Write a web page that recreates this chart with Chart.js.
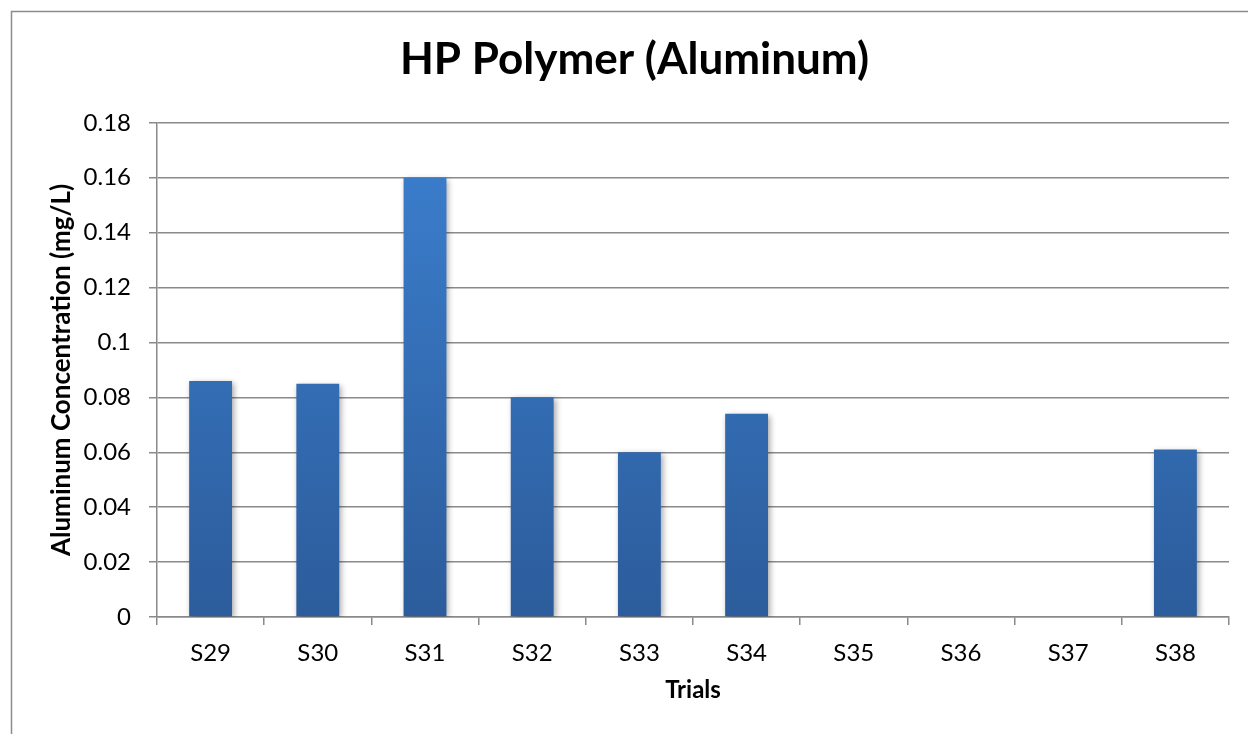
<!DOCTYPE html>
<html>
<head>
<meta charset="utf-8">
<script src="https://cdn.jsdelivr.net/npm/chart.js@4.4.1/dist/chart.umd.min.js"></script>
<style>
  body { margin: 0; background: #fff; }
  #wrap { width: 1248px; height: 734px; }
</style>
</head>
<body>
<div id="wrap"><canvas id="myChart" width="1248" height="734"></canvas></div>
<script>
// data
var trials = ['S29', 'S30', 'S31', 'S32', 'S33', 'S34', 'S35', 'S36', 'S37', 'S38'];
var aluminum = [0.086, 0.085, 0.16, 0.08, 0.06, 0.074, null, null, null, 0.061];
var yMin = 0;
var yMax = 0.18;
var yStep = 0.02;

var fontName = 'Lato, "Open Sans", sans-serif';
var gridColor = '#8a8a8a';

// outer frame of the chart object
var framePlugin = {
    id: 'frame',
    beforeDraw: function (chart) {
        var ctx = chart.ctx;
        ctx.save();
        ctx.fillStyle = '#fff';
        ctx.fillRect(0, 0, chart.width, chart.height);
        ctx.strokeStyle = '#8c8c8c';
        ctx.lineWidth = 1.5;
        ctx.strokeRect(11.5, 11.5, chart.width + 20, chart.height + 20);
        ctx.restore();
    }
};

// soft shadow behind bars
var shadowPlugin = {
    id: 'barShadow',
    beforeDatasetsDraw: function (chart) {
        var ctx = chart.ctx;
        ctx.save();
        ctx.shadowColor = 'rgba(0,0,0,0.35)';
        ctx.shadowBlur = 6;
        ctx.shadowOffsetX = 2;
        ctx.shadowOffsetY = 2;
    },
    afterDatasetsDraw: function (chart) {
        chart.ctx.restore();
    }
};

function barGradient(context) {
    var chart = context.chart;
    var area = chart.chartArea;
    if (!area) return '#3a7bc8';
    var g = chart.ctx.createLinearGradient(0, area.top, 0, area.bottom);
    g.addColorStop(0, '#3c80d0');
    g.addColorStop(1, '#2c5c9b');
    return g;
}

var ctx = document.getElementById('myChart');
var myChart = new Chart(ctx, {
    type: 'bar',
    data: {
        labels: trials,
        datasets: [{
            label: 'Aluminum',
            data: aluminum,
            backgroundColor: barGradient,
            borderWidth: 0,
            categoryPercentage: 0.8,
            barPercentage: 0.5
        }]
    },
    options: {
        responsive: false,
        animation: false,
        layout: { padding: { left: 40, right: 19, top: 0, bottom: 0 } },
        plugins: {
            legend: { display: false },
            tooltip: { enabled: false },
            title: {
                display: true,
                text: 'HP Polymer (Aluminum)',
                color: '#000',
                font: { family: fontName, size: 44, weight: 'bold', lineHeight: 1.2 },
                padding: { top: 33, bottom: 37 }
            }
        },
        scales: {
            x: {
                grid: {
                    display: true,
                    drawOnChartArea: false,
                    drawTicks: true,
                    tickLength: 8,
                    color: gridColor,
                    lineWidth: 1.5,
                    offset: true
                },
                border: { color: gridColor, width: 1.5 },
                ticks: {
                    color: '#000',
                    font: { family: fontName, size: 24 },
                    padding: 14,
                    maxRotation: 0
                },
                title: {
                    display: true,
                    text: 'Trials',
                    color: '#000',
                    font: { family: fontName, size: 24, weight: 'bold', lineHeight: 1.2 },
                    padding: { top: 0, bottom: 29 }
                },
                afterFit: function (scale) { scale.height = 117; }
            },
            y: {
                min: yMin,
                max: yMax,
                grid: {
                    color: gridColor,
                    lineWidth: 1.5,
                    tickLength: 8
                },
                border: { color: gridColor, width: 1.5 },
                ticks: {
                    stepSize: yStep,
                    color: '#000',
                    font: { family: fontName, size: 24 },
                    padding: 18,
                    callback: function (value) { return String(parseFloat(value.toFixed(2))); }
                },
                title: {
                    display: true,
                    text: 'Aluminum Concentration (mg/L)',
                    color: '#000',
                    font: { family: fontName, size: 26, weight: 'bold', lineHeight: 1.2 },
                    padding: { top: 6, bottom: 0 }
                },
                afterFit: function (scale) { scale.width = 117; }
            }
        }
    },
    plugins: [framePlugin, shadowPlugin]
});
</script>
</body>
</html>
